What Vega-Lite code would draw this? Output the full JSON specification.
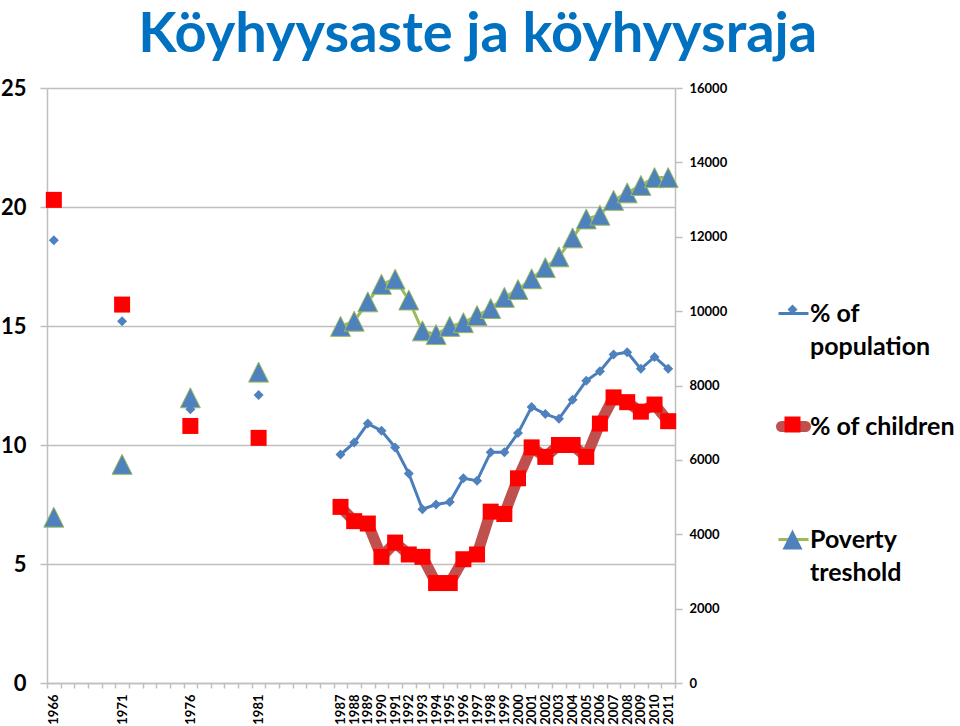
{
  "$schema": "https://vega.github.io/schema/vega-lite/v6.json",
  "width": 628,
  "height": 595,
  "padding": {"left": 0, "top": 7, "right": 0, "bottom": 0},
  "background": "white",
  "title": {
    "text": "Köyhyysaste ja köyhyysraja",
    "font": "Lato",
    "fontSize": 56,
    "fontWeight": "bold",
    "color": "#0070C0",
    "anchor": "middle",
    "frame": "bounds",
    "offset": 13
  },
  "config": {
    "view": {"stroke": null},
    "axis": {"labelFont": "Lato", "labelFontWeight": "bold", "labelColor": "black", "domainColor": "#BFBFBF", "tickColor": "#BFBFBF", "gridColor": "#BFBFBF", "gridWidth": 1.5, "domainWidth": 1.5, "tickWidth": 1.5}
  },
  "data": {
    "values": [
      {"year": 1966, "pop": 18.6, "child": 20.3, "pov": 4460},
      {"year": 1971, "pop": 15.2, "child": 15.9, "pov": 5880},
      {"year": 1976, "pop": 11.5, "child": 10.8, "pov": 7670},
      {"year": 1981, "pop": 12.1, "child": 10.3, "pov": 8360},
      {"year": 1987, "pop": 9.6, "child": 7.4, "pov": 9590},
      {"year": 1988, "pop": 10.1, "child": 6.8, "pov": 9730},
      {"year": 1989, "pop": 10.9, "child": 6.7, "pov": 10250},
      {"year": 1990, "pop": 10.6, "child": 5.3, "pov": 10720},
      {"year": 1991, "pop": 9.9, "child": 5.9, "pov": 10860},
      {"year": 1992, "pop": 8.8, "child": 5.4, "pov": 10300},
      {"year": 1993, "pop": 7.3, "child": 5.3, "pov": 9470},
      {"year": 1994, "pop": 7.5, "child": 4.2, "pov": 9370},
      {"year": 1995, "pop": 7.6, "child": 4.2, "pov": 9590},
      {"year": 1996, "pop": 8.6, "child": 5.2, "pov": 9690},
      {"year": 1997, "pop": 8.5, "child": 5.4, "pov": 9880},
      {"year": 1998, "pop": 9.7, "child": 7.2, "pov": 10070},
      {"year": 1999, "pop": 9.7, "child": 7.1, "pov": 10370},
      {"year": 2000, "pop": 10.5, "child": 8.6, "pov": 10580},
      {"year": 2001, "pop": 11.6, "child": 9.9, "pov": 10870},
      {"year": 2002, "pop": 11.3, "child": 9.5, "pov": 11170},
      {"year": 2003, "pop": 11.1, "child": 10.0, "pov": 11460},
      {"year": 2004, "pop": 11.9, "child": 10.0, "pov": 11970},
      {"year": 2005, "pop": 12.7, "child": 9.5, "pov": 12480},
      {"year": 2006, "pop": 13.1, "child": 10.9, "pov": 12580},
      {"year": 2007, "pop": 13.8, "child": 12.0, "pov": 12980},
      {"year": 2008, "pop": 13.9, "child": 11.8, "pov": 13180},
      {"year": 2009, "pop": 13.2, "child": 11.4, "pov": 13380},
      {"year": 2010, "pop": 13.7, "child": 11.7, "pov": 13590},
      {"year": 2011, "pop": 13.2, "child": 11.0, "pov": 13590}
    ]
  },
  "encoding": {
    "x": {
      "field": "year",
      "type": "ordinal",
      "scale": {
        "type": "band",
        "paddingInner": 0,
        "paddingOuter": 0,
        "domain": [1966,1967,1968,1969,1970,1971,1972,1973,1974,1975,1976,1977,1978,1979,1980,1981,1982,1983,1984,1985,1986,1987,1988,1989,1990,1991,1992,1993,1994,1995,1996,1997,1998,1999,2000,2001,2002,2003,2004,2005,2006,2007,2008,2009,2010,2011]
      },
      "axis": {
        "title": null,
        "labelAngle": -90,
        "labelFontSize": 13,
        "labelPadding": 6,
        "tickSize": 5,
        "tickBand": "extent",
        "labelOverlap": false,
        "labelExpr": "(datum.value >= 1987 || (datum.value % 5 == 1 && datum.value <= 1981)) ? datum.label : ''"
      }
    }
  },
  "layer": [
    {
      "encoding": {
        "y": {
          "field": "pov",
          "type": "quantitative",
          "scale": {"domain": [0, 16000]},
          "axis": {"orient": "right", "title": null, "values": [0,2000,4000,6000,8000,10000,12000,14000,16000], "format": "d", "labelFontSize": 13, "tickSize": 7, "labelPadding": 7, "grid": false}
        }
      },
      "layer": [
        {
          "transform": [{"filter": "datum.year >= 1987"}],
          "mark": {"type": "line", "strokeWidth": 3},
          "encoding": {
            "stroke": {
              "datum": "l3",
              "scale": {"domain": ["l1", "l2", "l3"], "range": ["#4A7EBB", "#C0504D", "#9BBB59"]},
              "legend": {
                "orient": "none", "legendX": 730, "legendY": 209, "title": null, "symbolType": "stroke",
                "labelExpr": "datum.value == 'l1' ? ['% of', 'population'] : datum.value == 'l2' ? ['% of children', ' '] : ['Poverty', 'treshold']",
                "labelFont": "Lato", "labelFontSize": 25, "labelFontWeight": "bold", "labelColor": "black", "labelLimit": 400, "rowPadding": 50, "labelOffset": 0,
                "encode": {
                  "symbols": {"update": {
                    "strokeWidth": {"value": 3},
                    "size": {"value": 900},
                    "shape": {"signal": "datum.value == 'l2' ? 'M-0.8,-0.267L0.8,-0.267A0.267,0.267 0 0 1 0.8,0.267L-0.8,0.267A0.267,0.267 0 0 1 -0.8,-0.267Z' : 'stroke'"},
                    "fill": {"signal": "datum.value == 'l2' ? '#C0504D' : 'transparent'"},
                    "strokeCap": {"value": "butt"}
                  }},
                  "labels": {"update": {"lineHeight": {"value": 33}}}
                }
              }
            }
          }
        },
        {
          "mark": {"type": "point", "filled": true, "size": 400, "opacity": 1, "stroke": "#9BBB59", "strokeWidth": 1},
          "encoding": {
            "shape": {
              "datum": "p3",
              "scale": {"domain": ["p1", "p2", "p3"], "range": ["M-0.5,0L0,-0.5L0.5,0L0,0.5Z", "M-0.8,-0.8L0.8,-0.8L0.8,0.8L-0.8,0.8Z", "M-1,1L1,1L0,-1Z"]},
              "legend": {
                "orient": "none", "legendX": 733, "legendY": 209, "title": null, "zindex": 1,
                "symbolSize": 400, "symbolStrokeWidth": 0, "symbolOpacity": 1,
                "labelExpr": "datum.value == 'p1' ? ['% of', 'population'] : datum.value == 'p2' ? ['% of children', ' '] : ['Poverty', 'treshold']",
                "labelFont": "Lato", "labelFontSize": 25, "labelFontWeight": "bold", "labelColor": "black", "labelOpacity": 0, "labelLimit": 400, "rowPadding": 62, "labelOffset": 5
              }
            },
            "fill": {
              "datum": "p3",
              "scale": {"domain": ["p1", "p2", "p3"], "range": ["#4F81BD", "#FF0000", "#4F81BD"]},
              "legend": {
                "orient": "none", "legendX": 733, "legendY": 209, "title": null, "zindex": 1,
                "symbolSize": 400, "symbolStrokeWidth": 0, "symbolOpacity": 1,
                "labelExpr": "datum.value == 'p1' ? ['% of', 'population'] : datum.value == 'p2' ? ['% of children', ' '] : ['Poverty', 'treshold']",
                "labelFont": "Lato", "labelFontSize": 25, "labelFontWeight": "bold", "labelColor": "black", "labelOpacity": 0, "labelLimit": 400, "rowPadding": 62, "labelOffset": 5
              }
            }
          }
        }
      ]
    },
    {
      "encoding": {
        "y": {
          "field": "child",
          "type": "quantitative",
          "scale": {"domain": [0, 25]},
          "axis": {"orient": "left", "title": null, "values": [0,5,10,15,20,25], "labelFontSize": 22, "tickSize": 7, "labelPadding": 14, "grid": true}
        }
      },
      "layer": [
        {
          "transform": [{"filter": "datum.year >= 1987"}],
          "mark": {"type": "line", "strokeWidth": 11, "strokeCap": "round", "strokeJoin": "round"},
          "encoding": {
            "stroke": {"datum": "l2", "scale": {"domain": ["l1", "l2", "l3"], "range": ["#4A7EBB", "#C0504D", "#9BBB59"]}}
          }
        },
        {
          "mark": {"type": "point", "filled": true, "size": 400, "opacity": 1, "strokeWidth": 0},
          "encoding": {
            "shape": {"datum": "p2"},
            "fill": {"datum": "p2"}
          }
        },
        {
          "transform": [{"filter": "datum.year >= 1987"}],
          "mark": {"type": "line", "strokeWidth": 3},
          "encoding": {
            "y": {"field": "pop", "type": "quantitative"},
            "stroke": {"datum": "l1"}
          }
        },
        {
          "mark": {"type": "point", "filled": true, "size": 400, "opacity": 1, "strokeWidth": 0},
          "encoding": {
            "y": {"field": "pop", "type": "quantitative"},
            "shape": {"datum": "p1"},
            "fill": {"datum": "p1"}
          }
        }
      ]
    }
  ],
  "resolve": {"scale": {"y": "independent"}}
}
